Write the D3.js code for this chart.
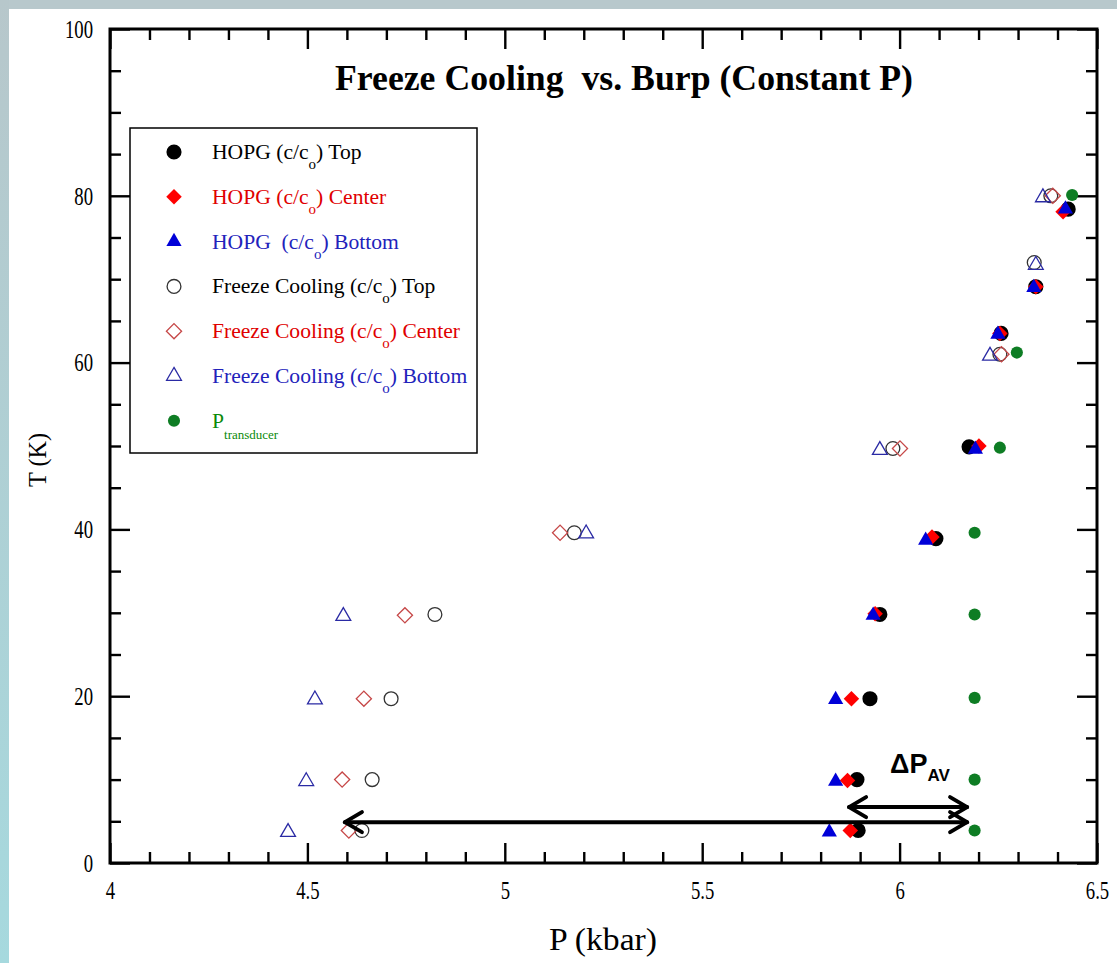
<!DOCTYPE html>
<html>
<head>
<meta charset="utf-8">
<script src="https://cdn.jsdelivr.net/npm/d3@7"></script>
<style>
  html, body { margin: 0; padding: 0; background: #fff; }
  svg text { white-space: pre; }
</style>
</head>
<body>
<div id="chart"></div>
<script>
// tick labels
const pTicks = [4, 4.5, 5, 5.5, 6, 6.5];
const tTicks = [0, 20, 40, 60, 80, 100];

// HOPG (c/co) Top - filled black circle
const hopgTopP = [5.895, 5.892, 5.925, 5.950, 6.092, 6.176, 6.257, 6.345, 6.427];
const hopgTopT = [3.9, 10.0, 19.7, 29.8, 38.9, 49.9, 63.5, 69.1, 78.4];
// HOPG (c/co) Center - filled red diamond
const hopgCenterP = [5.875, 5.868, 5.878, 5.938, 6.082, 6.201, 6.254, 6.345, 6.414];
const hopgCenterT = [3.9, 9.9, 19.7, 29.9, 39.1, 50.0, 63.5, 69.1, 78.1];
// HOPG (c/co) Bottom - filled blue triangle
const hopgBottomP = [5.822, 5.838, 5.838, 5.933, 6.066, 6.192, 6.249, 6.340, 6.420];
const hopgBottomT = [3.7, 9.8, 19.6, 29.7, 38.7, 49.6, 63.4, 69.0, 78.4];
// Freeze Cooling (c/co) Top - open circle
const freezeTopP = [4.638, 4.664, 4.712, 4.823, 5.176, 5.983, 6.254, 6.341, 6.383];
const freezeTopT = [3.9, 10.0, 19.7, 29.8, 39.6, 49.7, 61.0, 72.0, 80.0];
// Freeze Cooling (c/co) Center - open diamond
const freezeCenterP = [4.605, 4.588, 4.643, 4.747, 5.140, 6.001, 6.258, 6.388];
const freezeCenterT = [3.9, 10.0, 19.7, 29.7, 39.6, 49.7, 61.0, 80.0];
// Freeze Cooling (c/co) Bottom - open triangle
const freezeBottomP = [4.451, 4.497, 4.519, 4.591, 5.206, 5.950, 6.229, 6.345, 6.363];
const freezeBottomT = [3.7, 9.8, 19.6, 29.6, 39.5, 49.5, 60.8, 71.7, 79.8];
// P transducer - green dot
const transducerP = [6.190, 6.190, 6.190, 6.190, 6.190, 6.254, 6.297, 6.437];
const transducerT = [3.9, 10.0, 19.8, 29.8, 39.6, 49.8, 61.2, 80.1];

// delta P arrows (P from, P to, T)
const arrowLong = [4.595, 6.171, 4.9];
const arrowShort = [5.872, 6.171, 6.7];

const series = [
  {label: ['HOPG (c/c', 'o', ') Top'], p: hopgTopP, t: hopgTopT, shape: 'circle', size: 180, fill: '#000', stroke: 'none', text: '#000'},
  {label: ['HOPG (c/c', 'o', ') Center'], p: hopgCenterP, t: hopgCenterT, shape: 'diamond', size: 120, fill: '#ff0000', stroke: 'none', text: '#e00000'},
  {label: ['HOPG  (c/c', 'o', ') Bottom'], p: hopgBottomP, t: hopgBottomT, shape: 'triangle', size: 100, fill: '#0000d8', stroke: 'none', text: '#2222bb'},
  {label: ['Freeze Cooling (c/c', 'o', ') Top'], p: freezeTopP, t: freezeTopT, shape: 'circle', size: 150, fill: 'none', stroke: '#333', text: '#000'},
  {label: ['Freeze Cooling (c/c', 'o', ') Center'], p: freezeCenterP, t: freezeCenterT, shape: 'diamond', size: 115, fill: 'none', stroke: '#c64848', text: '#e00000'},
  {label: ['Freeze Cooling (c/c', 'o', ') Bottom'], p: freezeBottomP, t: freezeBottomT, shape: 'triangle', size: 95, fill: 'none', stroke: '#2a2aa4', text: '#2222bb'},
  {label: ['P', 'transducer', ''], p: transducerP, t: transducerT, shape: 'dot', size: 115, fill: '#0e7d24', stroke: 'none', text: '#0a8a0a'}
];

const width = 1117, height = 963;
const svg = d3.select('#chart').append('svg')
  .attr('width', width).attr('height', height);

// slide border
const grad = svg.append('defs').append('linearGradient')
  .attr('id', 'edge').attr('x1', 0).attr('y1', 0).attr('x2', 0).attr('y2', 1);
grad.append('stop').attr('offset', '0%').attr('stop-color', '#b7c7cb');
grad.append('stop').attr('offset', '100%').attr('stop-color', '#a6d9de');
svg.append('rect').attr('x', 0).attr('y', 0).attr('width', width).attr('height', 9).attr('fill', '#b8c8cc');
svg.append('rect').attr('x', 0).attr('y', 0).attr('width', 9).attr('height', height).attr('fill', 'url(#edge)');

const x = d3.scaleLinear([4, 6.5], [110, 1097]);
const y = d3.scaleLinear([0, 100], [863, 29]);

const minorX = x.ticks(25).filter(v => !pTicks.some(m => Math.abs(m - v) < 1e-6));
const minorY = y.ticks(20).filter(v => !tTicks.includes(v));

function tickAxis(axisFn, scale, values, len, tr){
  const g = svg.append('g').attr('transform', tr)
    .call(axisFn(scale).tickValues(values).tickSize(-len).tickFormat(''));
  g.select('.domain').remove();
  g.selectAll('line').attr('stroke', '#000').attr('stroke-width', 2.4);
}
// ticks on all four sides, pointing in
tickAxis(d3.axisBottom, x, minorX, 11, 'translate(0,863)');
tickAxis(d3.axisBottom, x, pTicks, 20, 'translate(0,863)');
tickAxis(d3.axisTop, x, minorX, 11, 'translate(0,29)');
tickAxis(d3.axisTop, x, pTicks, 20, 'translate(0,29)');
tickAxis(d3.axisLeft, y, minorY, 11, 'translate(110,0)');
tickAxis(d3.axisLeft, y, tTicks, 20, 'translate(110,0)');
tickAxis(d3.axisRight, y, minorY, 11, 'translate(1097,0)');
tickAxis(d3.axisRight, y, tTicks, 20, 'translate(1097,0)');

svg.append('rect').attr('x', 110).attr('y', 29).attr('width', 987).attr('height', 834)
  .attr('fill', 'none').attr('stroke', '#000').attr('stroke-width', 3);

// tick labels
const xLab = svg.append('g').attr('transform', 'translate(0,863)')
  .call(d3.axisBottom(x).tickValues(pTicks).tickSize(0).tickPadding(18).tickFormat(d3.format('')));
const yLab = svg.append('g').attr('transform', 'translate(110,0)')
  .call(d3.axisLeft(y).tickValues(tTicks).tickSize(0).tickPadding(17));
[xLab, yLab].forEach(g => {
  g.select('.domain').remove();
  g.selectAll('text').attr('font-family', '"Liberation Serif", serif')
    .attr('font-size', 26).attr('fill', '#000')
    .each(function(){
      const w = this.getComputedTextLength();
      d3.select(this).attr('textLength', w * 0.72).attr('lengthAdjust', 'spacingAndGlyphs');
    });
});

// axis titles
svg.append('text').attr('x', 603).attr('y', 950).attr('text-anchor', 'middle')
  .attr('font-family', '"Liberation Serif", serif').attr('font-size', 31)
  .attr('textLength', 108).attr('lengthAdjust', 'spacingAndGlyphs')
  .text('P (kbar)');
svg.append('text').attr('transform', 'translate(46,460) rotate(-90)').attr('text-anchor', 'middle')
  .attr('font-family', '"Liberation Serif", serif').attr('font-size', 26)
  .attr('textLength', 54).attr('lengthAdjust', 'spacingAndGlyphs')
  .text('T (K)');

// title
svg.append('text').attr('x', 624).attr('y', 90).attr('text-anchor', 'middle')
  .attr('font-family', '"Liberation Serif", serif').attr('font-size', 35).attr('font-weight', 'bold')
  .attr('textLength', 578).attr('lengthAdjust', 'spacingAndGlyphs')
  .text('Freeze Cooling  vs. Burp (Constant P)');

function symbolPath(s){
  if(s.shape === 'triangle') return d3.symbol(d3.symbolTriangle, s.size)();
  if(s.shape === 'diamond') return d3.symbol(d3.symbolSquare, s.size)();
  return d3.symbol(d3.symbolCircle, s.size)();
}
function place(s, px, py){
  return `translate(${px},${py})` + (s.shape === 'diamond' ? ' rotate(45)' : '');
}

// points
series.forEach(s => {
  const pts = s.p.map((v, i) => ({p: v, t: s.t[i]}));
  svg.append('g').selectAll('path').data(pts).enter().append('path')
    .attr('d', symbolPath(s))
    .attr('transform', d => place(s, x(d.p), y(d.t)))
    .attr('fill', s.fill).attr('stroke', s.stroke).attr('stroke-width', 1.3);
});

// legend
const legend = svg.append('g');
legend.append('rect').attr('x', 130).attr('y', 128).attr('width', 347).attr('height', 325)
  .attr('fill', '#fff').attr('stroke', '#000').attr('stroke-width', 1.5);
series.forEach((s, i) => {
  const cy = 152 + i * 44.8;
  legend.append('path').attr('d', symbolPath(s))
    .attr('transform', place(s, 174, cy))
    .attr('fill', s.fill).attr('stroke', s.stroke).attr('stroke-width', 1.3);
  const isP = s.label[2] === '';
  const txt = legend.append('text').attr('x', 212).attr('y', cy + 7)
    .attr('font-family', '"Liberation Serif", serif').attr('font-size', 21.6).attr('fill', s.text);
  txt.append('tspan').text(s.label[0]);
  txt.append('tspan').attr('dy', isP ? 11 : 10).attr('font-size', isP ? 13 : 15).text(s.label[1]);
  if(!isP) txt.append('tspan').attr('dy', -10).text(s.label[2]);
});

// delta P arrows
function arrow(a){
  const x0 = x(a[0]), x1 = x(a[1]), yy = y(a[2]);
  const g = svg.append('g').attr('stroke', '#000').attr('stroke-width', 4)
    .attr('fill', 'none').attr('stroke-linecap', 'round').attr('stroke-linejoin', 'round');
  g.append('line').attr('x1', x0).attr('x2', x1).attr('y1', yy).attr('y2', yy);
  g.append('path').attr('d', `M${x0 + 17},${yy - 10}L${x0},${yy}L${x0 + 17},${yy + 10}`);
  g.append('path').attr('d', `M${x1 - 17},${yy - 10}L${x1},${yy}L${x1 - 17},${yy + 10}`);
}
arrow(arrowLong);
arrow(arrowShort);

const dp = svg.append('text').attr('x', 890).attr('y', 773)
  .attr('font-family', '"Liberation Sans", Arial, sans-serif').attr('font-weight', 'bold')
  .attr('font-size', 27).attr('fill', '#000');
dp.append('tspan').text('ΔP');
dp.append('tspan').attr('dy', 8).attr('font-size', 17).text('AV');
</script>
</body>
</html>
